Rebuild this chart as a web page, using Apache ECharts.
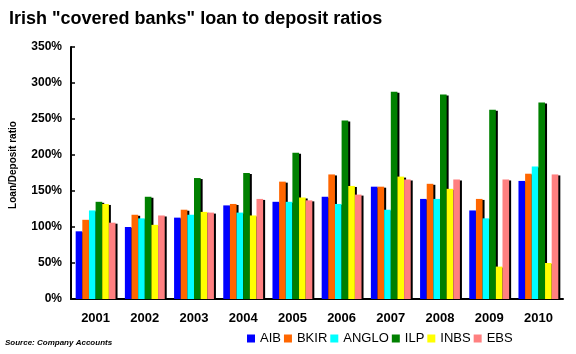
<!DOCTYPE html>
<html>
<head>
<meta charset="utf-8">
<script src="https://cdn.jsdelivr.net/npm/echarts@6/dist/echarts.min.js"></script>
<style>
	html, body { margin: 0; padding: 0; background: #fff; }
	#chart { width: 576px; height: 354px; }
</style>
</head>
<body>
<div id="chart"></div>
<script>
// years on the x axis
var years = ["2001", "2002", "2003", "2004", "2005", "2006", "2007", "2008", "2009", "2010"];
// loan to deposit ratios, in %
var aib   = [94, 100, 113, 130, 135, 142, 156, 139, 123, 164];
var bkir  = [110, 117, 124, 132, 163, 173, 156, 160, 139, 174];
var anglo = [123, 112, 117, 120, 135, 132, 124, 139, 112, 184];
var ilp   = [135, 142, 168, 175, 203, 248, 288, 284, 263, 273];
var inbs  = [132, 103, 121, 116, 141, 157, 170, 153, 45, 50];
var ebs   = [106, 116, 120, 139, 137, 145, 166, 166, 166, 173];
var yTicks = [0, 50, 100, 150, 200, 250, 300, 350];

var myChart = echarts.init(document.getElementById("chart"));

function bar(name, data, color) {
	return {
		name: name,
		type: "bar",
		data: data,
		barGap: 0,
		barCategoryGap: "19%",
		itemStyle: {
			color: color,
			shadowColor: "#000",
			shadowBlur: 0,
			shadowOffsetX: 2,
			shadowOffsetY: 1,
		},
	};
}

var option = {
	animation: false,
	backgroundColor: "#fff",
	title: {
		text: 'Irish "covered banks" loan to deposit ratios',
		left: 4,
		top: 5,
		textStyle: {
			fontFamily: "Liberation Sans",
			fontSize: 18,
			fontWeight: "bold",
			color: "#000",
		},
	},
	grid: {
		left: 69,
		right: 13,
		top: 47,
		bottom: 55,
	},
	legend: {
		left: 242,
		top: 327,
		itemWidth: 8,
		itemHeight: 8,
		itemGap: 3,
		icon: "rect",
		textStyle: {
			fontFamily: "Liberation Sans",
			fontSize: 13,
			color: "#000",
		},
	},
	graphic: [
		{
			type: "text",
			left: 5,
			top: 339,
			style: {
				text: "Source: Company Accounts",
				font: "italic bold 8px Liberation Sans",
				fill: "#000",
			},
		},
	],
	xAxis: {
		type: "category",
		data: years,
		axisLine: { lineStyle: { color: "#000", width: 2 } },
		axisTick: { inside: true, length: 3, lineStyle: { color: "#000", width: 1.5 } },
		axisLabel: {
			color: "#000",
			fontFamily: "Liberation Sans",
			fontSize: 13,
			fontWeight: "bold",
			margin: 13,
		},
	},
	yAxis: {
		type: "value",
		min: yTicks[0],
		max: yTicks[yTicks.length - 1],
		interval: yTicks[1] - yTicks[0],
		name: "Loan/Deposit ratio",
		nameLocation: "middle",
		nameGap: 53,
		nameTextStyle: {
			color: "#000",
			fontFamily: "Liberation Sans",
			fontSize: 10,
			fontWeight: "bold",
			padding: [0, 0, 0, 16],
		},
		axisLine: { show: true, lineStyle: { color: "#000", width: 2 } },
		axisTick: { show: true, inside: true, length: 4, lineStyle: { color: "#000", width: 1.5 } },
		splitLine: { show: false },
		axisLabel: {
			color: "#000",
			fontFamily: "Liberation Sans",
			fontSize: 12,
			fontWeight: "bold",
			margin: 9,
			formatter: "{value}%",
		},
	},
	series: [
		bar("AIB", aib, "#0000FF"),
		bar("BKIR", bkir, "#FF6600"),
		bar("ANGLO", anglo, "#00FFFF"),
		bar("ILP", ilp, "#008000"),
		bar("INBS", inbs, "#FFFF00"),
		bar("EBS", ebs, "#FF8080"),
	],
};

myChart.setOption(option, true);
</script>
</body>
</html>
